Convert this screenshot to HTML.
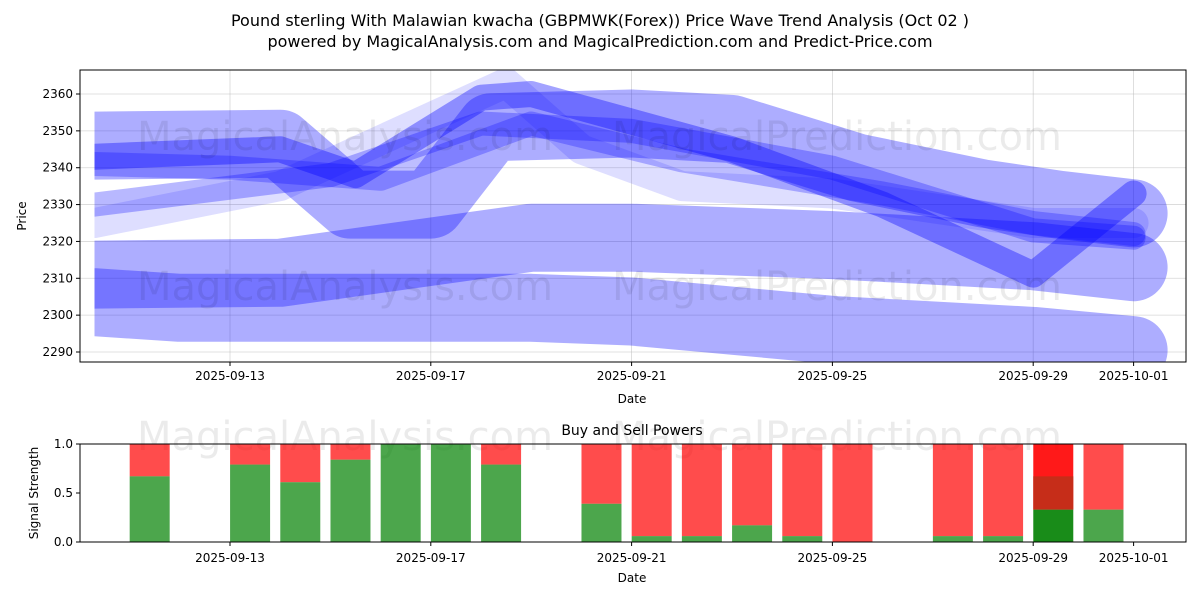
<!DOCTYPE html>
<html><head><meta charset="utf-8"><style>
body{margin:0;background:#fff;}
svg text{font-family:"DejaVu Sans","Liberation Sans",sans-serif;fill:#000;}
</style></head><body>
<svg id="c" width="1200" height="600" viewBox="0 0 1200 600"></svg>
<script>
// ---- data ----
const priceTicks=[2290,2300,2310,2320,2330,2340,2350,2360];
const dateTickLabels=["2025-09-13","2025-09-17","2025-09-21","2025-09-25","2025-09-29","2025-10-01"];
const dateTickDays=[3,7,11,15,19,21];
// wave bands: day offsets (from 2025-09-10) and prices
const waveDays=[
 [0.3,2,9,11,15,19,21],
 [0.3,4,9,11,15,19,21],
 [0.3,4,5.4,7,8.2,11,13,15.5,18,19.5,21],
 [0.3,4,5.5,8,9,13,16,19,21],
 [0.3,5,8,11,15,19,21],
 [0.3,4,8.5,10,12,15,19,21],
 [0.3,3,6,9,12,16,19,21]
];
const wavePrices=[
 [2303.5,2302,2302,2301,2296,2293,2290.5],
 [2311,2311.5,2321,2321,2319,2316,2313],
 [2346,2346.5,2330,2330,2351,2352,2350.5,2340,2333,2330,2327.6],
 [2343,2345,2338,2359,2360,2345,2330,2311,2333],
 [2330,2338,2352,2350,2340,2323,2321],
 [2325,2335,2363,2345,2335,2333,2325,2325],
 [2341,2340,2337,2352,2342,2333,2325,2322]
];
const waveWidths=[68,68,68,26,24,30,24];
const waveOpacity=[0.32,0.32,0.32,0.36,0.28,0.13,0.26];
// buy/sell
const barDays=[1,3,4,5,6,7,8,10,11,12,13,14,15,17,18,19,20];
const buyPower=[0.67,0.79,0.61,0.84,1.0,1.0,0.79,0.39,0.06,0.06,0.17,0.06,0.0,0.06,0.06,0.33,0.33];
const sigTicks=[0,0.5,1.0];

const NS="http://www.w3.org/2000/svg";
const svg=document.getElementById('c');
function el(t,a,p){const e=document.createElementNS(NS,t);for(const k in a)e.setAttribute(k,a[k]);(p||svg).appendChild(e);return e;}
const X0=80,X1=1186;
const xd=d=>79.4+50.2*d;
const yP=p=>352-(p-2290)*(258/70);
const T1=70,B1=362,T2=444,B2=542;
const yS=v=>B2-v*(B2-T2);

// titles
let t=el('text',{x:600,y:26,'text-anchor':'middle','font-size':16});t.textContent="Pound sterling With Malawian kwacha (GBPMWK(Forex)) Price Wave Trend Analysis (Oct 02 )";

t=el('text',{x:600,y:47,'text-anchor':'middle','font-size':16});t.textContent="powered by MagicalAnalysis.com and MagicalPrediction.com and Predict-Price.com";


// grid top
const g1=el('g',{});
priceTicks.forEach(p=>{el('line',{x1:X0,x2:X1,y1:yP(p),y2:yP(p),stroke:'#b0b0b0','stroke-width':0.8,'stroke-opacity':0.5},g1);});
dateTickDays.forEach(d=>{el('line',{x1:xd(d),x2:xd(d),y1:T1,y2:B1,stroke:'#b0b0b0','stroke-width':0.8,'stroke-opacity':0.5},g1);});

// waves
const clip=el('clipPath',{id:'cp'});el('rect',{x:xd(0.3),y:T1,width:X1-xd(0.3),height:B1-T1},clip);
const gw=el('g',{'clip-path':'url(#cp)'});
waveDays.forEach((ds,i)=>{
  const pts=ds.map((d,j)=>xd(d).toFixed(1)+','+yP(wavePrices[i][j]).toFixed(1)).join(' ');
  const pl=el('polyline',{points:pts,fill:'none',stroke:'#0000ff','stroke-opacity':waveOpacity[i],'stroke-width':waveWidths[i],'stroke-linejoin':'round','stroke-linecap':'round'},gw);
  
  
});

// watermarks
[[345,150],[837,150],[345,300],[837,300],[345,450],[837,450]].forEach(([x,y])=>{
 const w=el('text',{x:x,y:y,'text-anchor':'middle','font-size':40,'fill-opacity':0.08});
 w.textContent=x<600?"MagicalAnalysis.com":"MagicalPrediction.com";
 
});

// axes top
el('rect',{x:X0,y:T1,width:X1-X0,height:B1-T1,fill:'none',stroke:'#000','stroke-width':1});
priceTicks.forEach(p=>{el('line',{x1:X0-4,x2:X0,y1:yP(p),y2:yP(p),stroke:'#000'});
 const l=el('text',{x:X0-7,y:yP(p)+4,'text-anchor':'end','font-size':12});l.textContent=p;
 });
dateTickDays.forEach((d,i)=>{el('line',{x1:xd(d),x2:xd(d),y1:B1,y2:B1+4,stroke:'#000'});
 const l=el('text',{x:xd(d),y:B1+18,'text-anchor':'middle','font-size':12});l.textContent=dateTickLabels[i];
 });
t=el('text',{x:632,y:403,'text-anchor':'middle','font-size':12});t.textContent="Date";
t=el('text',{x:26,y:216,'text-anchor':'middle','font-size':12,transform:'rotate(-90 26 216)'});t.textContent="Price";

// bottom chart
t=el('text',{x:632,y:435,'text-anchor':'middle','font-size':14});t.textContent="Buy and Sell Powers";
const gb=el('g',{});
barDays.forEach((d,i)=>{
 const cx=xd(d+0.4),w=40,b=buyPower[i];
 const special=i===15;
 const r=el('rect',{x:cx-w/2,y:yS(1),width:w,height:yS(b)-yS(1),fill:'#ff0000','fill-opacity':special?0.9:0.7},gb);
 
 if(special){el('rect',{x:cx-w/2,y:yS(0.67),width:w,height:yS(b)-yS(0.67),fill:'#c0301a','fill-opacity':0.9},gb);}
 const g=el('rect',{x:cx-w/2,y:yS(b),width:w,height:yS(0)-yS(b),fill:'#008000','fill-opacity':special?0.9:0.7},gb);
 
});
el('rect',{x:X0,y:T2,width:X1-X0,height:B2-T2,fill:'none',stroke:'#000','stroke-width':1});
sigTicks.forEach(v=>{el('line',{x1:X0-4,x2:X0,y1:yS(v),y2:yS(v),stroke:'#000'});
 const l=el('text',{x:X0-7,y:yS(v)+4,'text-anchor':'end','font-size':12});l.textContent=v.toFixed(1);
 });
dateTickDays.forEach((d,i)=>{el('line',{x1:xd(d),x2:xd(d),y1:B2,y2:B2+4,stroke:'#000'});
 const l=el('text',{x:xd(d),y:B2+20,'text-anchor':'middle','font-size':12});l.textContent=dateTickLabels[i];
 });
t=el('text',{x:632,y:582,'text-anchor':'middle','font-size':12});t.textContent="Date";
t=el('text',{x:38,y:493,'text-anchor':'middle','font-size':12,transform:'rotate(-90 38 493)'});t.textContent="Signal Strength";
</script>
</body></html>
